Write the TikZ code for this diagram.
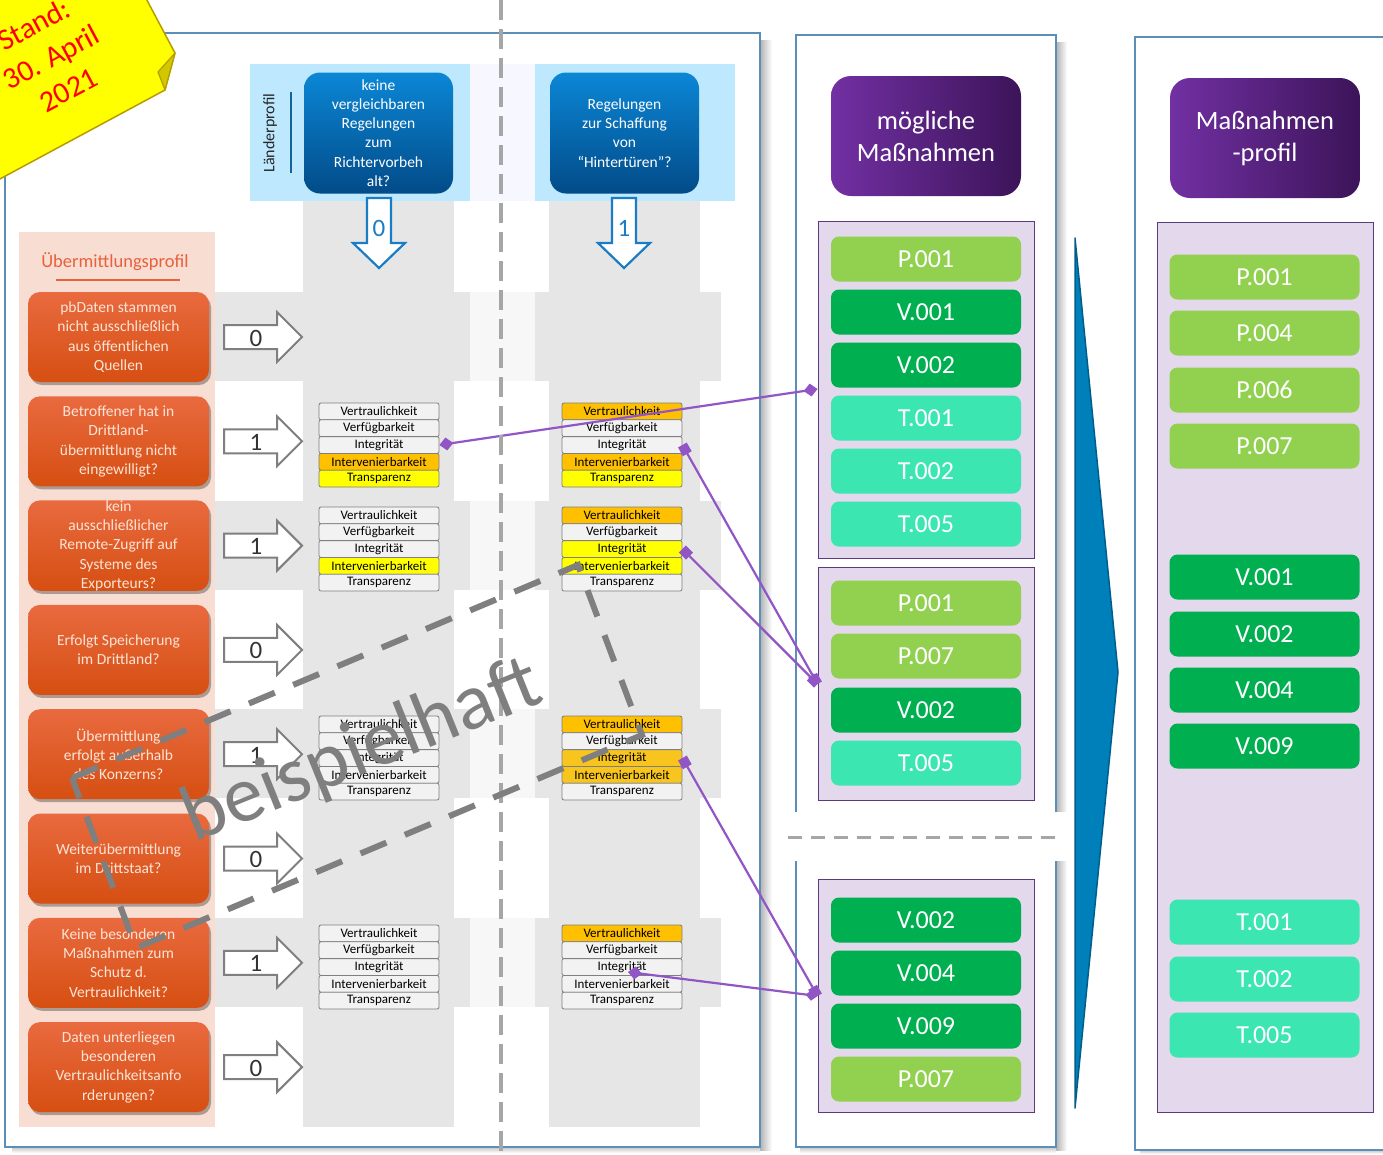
\documentclass[tikz,border=0pt]{standalone}
\usepackage{fontspec}
\setmainfont{Carlito}
\usetikzlibrary{shapes.geometric,arrows.meta,shadows,calc}
\definecolor{frameblue}{HTML}{5B8FB9}
\definecolor{peach}{HTML}{F8DDD2}
\definecolor{bandgray}{HTML}{E6E6E6}
\definecolor{lightblue}{HTML}{BDE8FE}
\definecolor{hdrtop}{HTML}{0B87D6}
\definecolor{hdrbot}{HTML}{024B88}
\definecolor{orgtop}{HTML}{E96A3F}
\definecolor{orgbot}{HTML}{D64F12}
\definecolor{orgtext}{HTML}{FCE4D6}
\definecolor{amber}{HTML}{FFC000}
\definecolor{amberb}{HTML}{F8C51F}
\definecolor{yel}{HTML}{FFFF00}
\definecolor{cellw}{HTML}{F2F2F2}
\definecolor{cellb}{HTML}{7F7F7F}
\definecolor{conn}{HTML}{9155C6}
\definecolor{lav}{HTML}{E3D8EC}
\definecolor{lavb}{HTML}{5B3B7E}
\definecolor{purpL}{HTML}{7230A3}
\definecolor{purpR}{HTML}{3C1459}
\definecolor{pgreen}{HTML}{92D050}
\definecolor{vgreen}{HTML}{00B050}
\definecolor{tmint}{HTML}{3CE6B0}
\definecolor{bigarrow}{HTML}{0080BA}
\definecolor{bigarrowb}{HTML}{005E8C}
\definecolor{notey}{HTML}{FFFF00}
\definecolor{noteb}{HTML}{B89B00}
\definecolor{notefold}{HTML}{D2C800}
\definecolor{wm}{HTML}{7F7F7F}
\definecolor{dashgray}{HTML}{A6A6A6}
\definecolor{uebcol}{HTML}{E8603C}
\definecolor{arrowblue}{HTML}{1A7CC4}
\definecolor{arrgray}{HTML}{7F7F7F}
\newcommand\myfs[2]{\fontsize{#1}{#2}\selectfont}
\newcommand\ptable[8]{%
  \node[cell,fill=#4] (#1a) at (#2,#3+8.4) {Vertraulichkeit};
  \node[cell,fill=#5] (#1b) at (#2,#3+25.2) {Verfügbarkeit};
  \node[cell,fill=#6] (#1c) at (#2,#3+42) {Integrität};
  \node[cell,fill=#7] (#1d) at (#2,#3+58.8) {Intervenierbarkeit};
  \node[cell,fill=#8] (#1e) at (#2,#3+75.6) {Transparenz};
}
\tikzset{
  cell/.style={draw=cellb, rounded corners=2pt, minimum width=120, minimum height=16.8, inner sep=0pt, font=\myfs{13}{13}, line width=0.8pt},
  obox/.style={rounded corners=12pt, minimum width=181, minimum height=90, inner sep=0pt, top color=orgtop, bottom color=orgbot, text=orgtext, align=center, font=\myfs{15.5}{19.3}, drop shadow={shadow xshift=2pt, shadow yshift=-3pt, opacity=0.3, fill=black}},
  hdr/.style={rounded corners=16pt, minimum width=149, minimum height=121, inner sep=0pt, top color=hdrtop, bottom color=hdrbot, text=white, align=center, font=\myfs{15.5}{19.2}},
  phdr/.style={rounded corners=20pt, minimum width=190, minimum height=120, inner sep=0pt, left color=purpL, right color=purpR, text=white, align=center, font=\myfs{26.5}{32}},
  item/.style={rounded corners=8pt, minimum width=190, minimum height=45, inner sep=0pt, text=white, font=\myfs{26}{26}},
  grp/.style={draw=lavb, fill=lav, line width=1pt, inner sep=0pt},
  rarr/.style={draw=arrgray, line width=2pt, fill=white},
  darr/.style={draw=arrowblue, line width=2.2pt, fill=white},
  num/.style={font=\myfs{25}{25}, text=black!80},
  pline/.style={conn, line width=2.2pt},
}
\begin{document}
\begin{tikzpicture}[x=1pt,y=-1pt]
\useasboundingbox (0,0) rectangle (1383,1154);
\fill[white] (0,0) rectangle (1383,1154);
% ---------- frames
\fill[left color=gray!60,right color=white] (760,40) rectangle (772,1150);
\fill[top color=gray!45,bottom color=white] (12,1147) rectangle (760,1153);
\draw[frameblue, line width=1.2pt, fill=white] (5,33) rectangle (760,1147);
\fill[left color=gray!60,right color=white] (1056,42) rectangle (1067,1150);
\fill[top color=gray!45,bottom color=white] (800,1147) rectangle (1056,1153);
\draw[frameblue, line width=1.2pt, fill=white] (796,35) rectangle (1056,1147);
\fill[top color=gray!45,bottom color=white] (1140,1150) rectangle (1383,1154);
\draw[frameblue, line width=1.2pt, fill=white] (1135,37) rectangle (1395,1150);
% ---------- left panel backgrounds
\fill[peach] (19,232) rectangle (215,1127);
\fill[bandgray] (303,201) rectangle (454,1127);
\fill[bandgray] (549,201) rectangle (700,1127);
\foreach \i in {0,2,4,6}{
  \pgfmathsetmacro\yt{292+104.3*\i}
  \pgfmathsetmacro\yb{\yt+89}
  \fill[bandgray] (215,\yt) rectangle (470,\yb);
  \fill[bandgray] (535,\yt) rectangle (721,\yb);
  \fill[gray!6] (470,\yt) rectangle (535,\yb);
}
\fill[lightblue] (250,64) rectangle (470,201);
\fill[lightblue] (535,64) rectangle (735,201);
\fill[blue!3] (470,64) rectangle (535,201);
% ---------- titles
\node[font=\myfs{18.5}{20}, text=uebcol] (uebtitle) at (115,262) {Übermittlungsprofil};
\draw[uebcol, line width=1.2pt] (56,280) -- (180,280);
\node[rotate=90, font=\myfs{16}{18}, text=black!85] (lp) at (270,133) {Länderprofil};
\draw[arrowblue!80!black, line width=1.2pt] (291,92) -- (291,173);
% ---------- header boxes
\node[hdr] (h1) at (378.5,133) {keine\\vergleichbaren\\Regelungen\\zum\\Richtervorbeh\\alt?};
\node[hdr] (h2) at (624.5,133) {Regelungen\\zur Schaffung\\von\\“Hintertüren”?};
\draw[darr] (367,198) -- (391,198) -- (391,243) -- (405,243) -- (379,268) -- (353,243) -- (367,243) -- cycle;
\node[num, text=arrowblue] (d1) at (379,228) {0};
\draw[darr] (612,198) -- (636,198) -- (636,243) -- (650,243) -- (624,268) -- (598,243) -- (612,243) -- cycle;
\node[num, text=arrowblue] (d2) at (624,228) {1};
% ---------- orange question boxes
\node[obox] (ob0) at (118.5,337) {pbDaten stammen\\nicht ausschließlich\\aus öffentlichen\\Quellen};
\node[obox] (ob1) at (118.5,441.3) {Betroffener hat in\\Drittland-\\übermittlung nicht\\eingewilligt?};
\node[obox] (ob2) at (118.5,545.6) {kein\\ausschließlicher\\Remote-Zugriff auf\\Systeme des\\Exporteurs?};
\node[obox] (ob3) at (118.5,649.9) {Erfolgt Speicherung\\im Drittland?};
\node[obox] (ob4) at (118.5,754.2) {Übermittlung\\erfolgt außerhalb\\des Konzerns?};
\node[obox] (ob5) at (118.5,858.5) {Weiterübermittlung\\im Drittstaat?};
\node[obox] (ob6) at (118.5,962.8) {Keine besonderen\\Maßnahmen zum\\Schutz d.\\Vertraulichkeit?};
\node[obox] (ob7) at (118.5,1067.1) {Daten unterliegen\\besonderen\\Vertraulichkeitsanfo\\rderungen?};
% ---------- right arrows with values
\foreach \i/\v in {0/0,1/1,2/1,3/0,4/1,5/0,6/1,7/0}{
  \pgfmathsetmacro\c{337+104.3*\i}
  \draw[rarr] (224,\c-12) -- (277,\c-12) -- (277,\c-25) -- (302,\c) -- (277,\c+25) -- (277,\c+12) -- (224,\c+12) -- cycle;
  \node[num] (ra\i) at (256,\c+1) {\v};
}
% ---------- property tables
\ptable{t1L}{379}{403}{cellw}{cellw}{cellw}{amber}{yel}
\ptable{t1R}{622}{403}{amber}{cellw}{cellw}{amber}{yel}
\ptable{t2L}{379}{507}{cellw}{cellw}{cellw}{yel}{cellw}
\ptable{t2R}{622}{507}{amber}{cellw}{yel}{yel}{cellw}
\ptable{t4L}{379}{716}{cellw}{cellw}{cellw}{cellw}{cellw}
\ptable{t4R}{622}{716}{amber}{cellw}{amberb}{amberb}{cellw}
\ptable{t6L}{379}{925}{cellw}{cellw}{cellw}{cellw}{cellw}
\ptable{t6R}{622}{925}{amber}{cellw}{cellw}{cellw}{cellw}
% ---------- middle panel
\node[phdr] (mh) at (926,136) {mögliche\\Maßnahmen};
\node[grp, minimum width=216, minimum height=337] (g1) at (926,389.5) {};
\node[grp, minimum width=216, minimum height=233] (g2) at (926,683.5) {};
\node[grp, minimum width=216, minimum height=233] (g3) at (926,995.5) {};
\node[item, fill=pgreen] (a1) at (926,259) {P.001};
\node[item, fill=vgreen] (a2) at (926,312) {V.001};
\node[item, fill=vgreen] (a3) at (926,365) {V.002};
\node[item, fill=tmint] (a4) at (926,418) {T.001};
\node[item, fill=tmint] (a5) at (926,471) {T.002};
\node[item, fill=tmint] (a6) at (926,524) {T.005};
\node[item, fill=pgreen] (b1) at (926,603) {P.001};
\node[item, fill=pgreen] (b2) at (926,656) {P.007};
\node[item, fill=vgreen] (b3) at (926,710) {V.002};
\node[item, fill=tmint] (b4) at (926,763) {T.005};
\node[item, fill=vgreen] (c1) at (926,920) {V.002};
\node[item, fill=vgreen] (c2) at (926,973) {V.004};
\node[item, fill=vgreen] (c3) at (926,1026) {V.009};
\node[item, fill=pgreen] (c4) at (926,1079) {P.007};
\fill[white] (783,812) rectangle (1070,861);
\draw[dashgray, line width=3pt, dash pattern=on 14pt off 9pt] (788,837) -- (1060,837);
% ---------- big arrow
\filldraw[fill=bigarrow, draw=bigarrowb, line width=1.5pt, line join=round] (1075,238) -- (1118,672) -- (1075,1108) -- cycle;
% ---------- right panel
\node[phdr] (rh) at (1265,138) {Maßnahmen\\-profil};
\node[grp, minimum width=216, minimum height=890] (rg) at (1265,667) {};
\node[item, fill=pgreen] (r1) at (1264.5,277) {P.001};
\node[item, fill=pgreen] (r2) at (1264.5,333) {P.004};
\node[item, fill=pgreen] (r3) at (1264.5,390) {P.006};
\node[item, fill=pgreen] (r4) at (1264.5,446) {P.007};
\node[item, fill=vgreen] (r5) at (1264.5,577) {V.001};
\node[item, fill=vgreen] (r6) at (1264.5,634) {V.002};
\node[item, fill=vgreen] (r7) at (1264.5,690) {V.004};
\node[item, fill=vgreen] (r8) at (1264.5,746) {V.009};
\node[item, fill=tmint] (r9) at (1264.5,922) {T.001};
\node[item, fill=tmint] (r10) at (1264.5,979) {T.002};
\node[item, fill=tmint] (r11) at (1264.5,1035) {T.005};
% ---------- connectors
\coordinate (m1) at (g1.west |- 0,389);
\coordinate (m2) at (g2.west |- 0,684);
\coordinate (m3) at (g3.west |- 0,996);
\coordinate (c5s) at (628,972);
\draw[pline, {Diamond[length=14pt,width=13pt]}-{Diamond[length=14pt,width=13pt]}] (t1Lc.east) -- (m1);
\draw[pline, {Square[length=10pt,width=10pt]}-{Square[length=10pt,width=10pt]}] (t1Rc.east) -- (m2);
\draw[pline, {Square[length=10pt,width=10pt]}-{Square[length=10pt,width=10pt]}] (t2Rc.east) -- (m2);
\draw[pline, {Square[length=10pt,width=10pt]}-{Square[length=10pt,width=10pt]}] (t4Rc.east) -- (m3);
\draw[pline, {Diamond[length=14pt,width=13pt]}-{Diamond[length=12pt,width=11pt]}] (c5s) -- (m3);
% ---------- vertical divider
\draw[dashgray, line width=4pt, dash pattern=on 20pt off 9pt] (501,0) -- (501,1154);
% ---------- watermark
\draw[wm, line width=6pt, dash pattern=on 28pt off 20pt] (72,778) -- (578,565) -- (642,735) -- (136,948) -- cycle;
\node[rotate=22, text=wm, font=\myfs{80}{80}] (bsp) at (362,752) {beispielhaft};
% ---------- sticky note
\filldraw[fill=notey, draw=noteb, line width=1.5pt, line join=round] (-80,222) -- (165,90) -- (175,53) -- (81,-124) -- (-200,-20) -- cycle;
\filldraw[fill=notefold, draw=noteb, line width=1.2pt, line join=round] (175,53) -- (158,72) -- (165,90) -- cycle;
\node[rotate=28, text=red, align=center, font=\myfs{30}{37}] (stand) at (51,57) {Stand:\\30. April\\2021};
\end{tikzpicture}
\end{document}
